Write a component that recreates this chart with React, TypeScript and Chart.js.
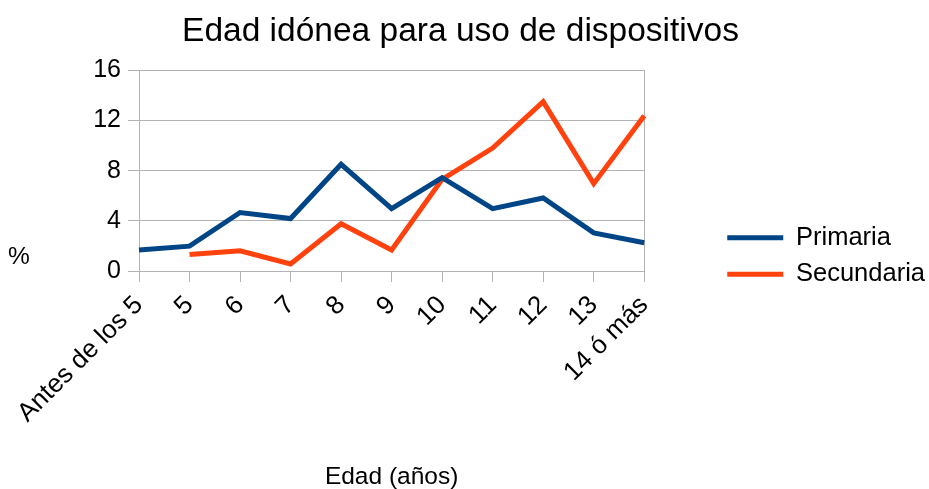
import React, { useEffect, useRef } from "react";
import { Chart, registerables } from "chart.js";

Chart.register(...registerables);

const categories = ["Antes de los 5", "5", "6", "7", "8", "9", "10", "11", "12", "13", "14 ó más"];
const primaria = [1.67, 1.98, 4.66, 4.18, 8.5, 4.97, 7.44, 4.97, 5.82, 3.04, 2.25];
const secundaria = [null, 1.32, 1.61, 0.56, 3.76, 1.67, 7.3, 9.8, 13.5, 6.96, 12.38];
const seriesNames = ["Primaria", "Secundaria"];
const titleText = "Edad idónea para uso de dispositivos";
const xTitle = "Edad (años)";
const yTitle = "%";

const FONT = "'Liberation Sans', Arial, sans-serif";
const GRID = "#b3b3b3";

export default function App() {
  const ref = useRef<HTMLCanvasElement | null>(null);

  useEffect(() => {
    if (!ref.current) return;
    const percentPlugin = {
      id: "percentLabel",
      afterDraw(chart: any) {
        const ctx = chart.ctx;
        ctx.save();
        ctx.font = `24.5px ${FONT}`;
        ctx.fillStyle = "#000";
        ctx.textAlign = "center";
        ctx.textBaseline = "middle";
        ctx.fillText(yTitle, 19, chart.chartArea.bottom - 14);
        ctx.restore();
      },
    };
    const chart = new Chart(ref.current, {
      type: "line",
      data: {
        labels: categories,
        datasets: [
          {
            label: seriesNames[0],
            data: primaria,
            borderColor: "#004586",
            backgroundColor: "#004586",
            borderWidth: 5,
            pointRadius: 0,
            tension: 0,
          },
          {
            label: seriesNames[1],
            data: secundaria,
            borderColor: "#ff420e",
            backgroundColor: "#ff420e",
            borderWidth: 5,
            pointRadius: 0,
            tension: 0,
          },
        ],
      },
      options: {
        animation: false,
        responsive: true,
        maintainAspectRatio: false,
        layout: { padding: { left: -14, bottom: -3, right: -6, top: 0 } },
        plugins: {
          title: {
            display: true,
            text: titleText,
            color: "#000",
            font: { family: FONT, size: 33.5, weight: "normal" },
            padding: { top: 12, bottom: 18 },
          },
          legend: {
            position: "right",
            maxWidth: 260,
            title: { display: true, text: " ", font: { size: 10 }, padding: 4 },
            labels: {
              color: "#000",
              font: { family: FONT, size: 25.5 },
              boxWidth: 56,
              boxHeight: 5,
              padding: 11,
              generateLabels: (chart: any) =>
                Chart.defaults.plugins.legend.labels
                  .generateLabels(chart)
                  .map((l: any) => ({ ...l, lineWidth: 0 })),
            },
          },
          tooltip: { enabled: false },
        },
        scales: {
          x: {
            offset: false,
            grid: {
              drawOnChartArea: false,
              drawTicks: true,
              tickLength: 11,
              color: GRID,
            },
            border: { color: GRID },
            ticks: {
              color: "#000",
              font: { family: FONT, size: 26 },
              maxRotation: 45,
              minRotation: 45,
              padding: 8,
              autoSkip: false,
            },
            title: {
              display: true,
              text: xTitle,
              color: "#000",
              font: { family: FONT, size: 24.5 },
              padding: { top: 26, bottom: 0 },
            },
          },
          y: {
            min: 0,
            max: 16,
            grid: { color: GRID, tickLength: 11 },
            border: { color: GRID },
            ticks: {
              stepSize: 2,
              color: "#000",
              font: { family: FONT, size: 25 },
              padding: 7,
              callback: (v: any) => (Number(v) % 4 === 0 ? String(v) : ""),
            },
            afterFit: (s: any) => {
              s.width = 153;
            },
          },
          y2: {
            type: "linear",
            position: "right",
            display: true,
            grid: { drawOnChartArea: false, drawTicks: false },
            ticks: { display: false },
            border: { color: GRID },
            afterFit: (s: any) => {
              s.width = 72;
            },
          },
        },
      } as any,
      plugins: [percentPlugin],
    });
    return () => chart.destroy();
  }, []);

  return (
    <div style={{ position: "fixed", left: 0, top: 0, width: 929, height: 489, background: "#fff" }}>
      <canvas ref={ref} />
    </div>
  );
}
